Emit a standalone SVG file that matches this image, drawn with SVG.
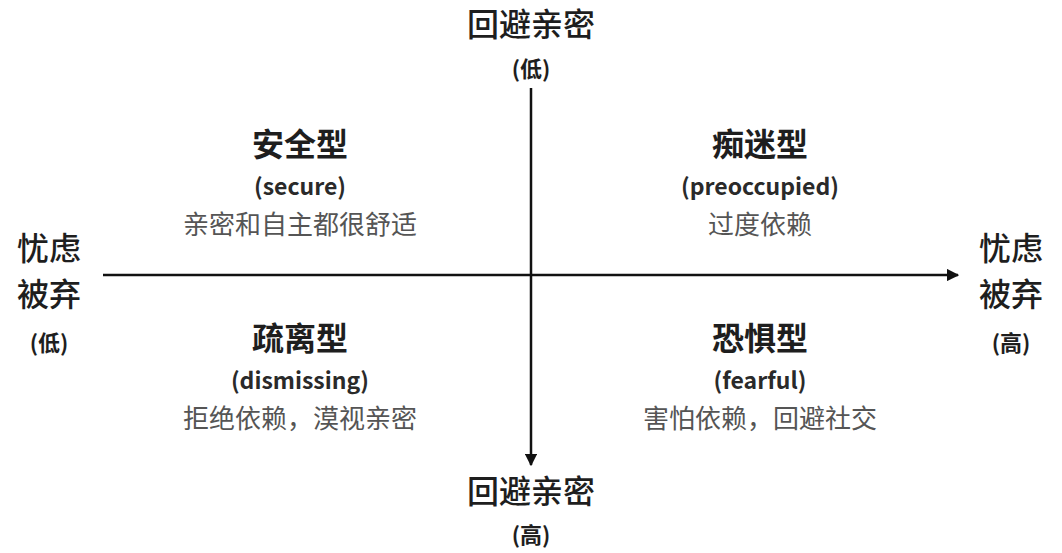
<svg xmlns="http://www.w3.org/2000/svg" width="1062" height="553" viewBox="0 0 1062 553">
<style>
text{font-family:"Noto Sans CJK SC","Noto Sans",sans-serif;text-anchor:middle}
.ax{font-size:32px;fill:#1e1e1e;font-weight:500}
.pr{font-size:22px;fill:#1e1e1e;font-weight:700}
.tt{font-size:32px;fill:#1e1e1e;font-weight:700}
.en{font-size:23px;fill:#2a2a2a;font-weight:700}
.ds{font-size:26px;fill:#555}
.ln{stroke:#111;stroke-width:2.5;fill:none}
</style>
<defs>
<marker id="ar" viewBox="0 0 10 10" refX="9" refY="5" markerWidth="5" markerHeight="5" orient="auto"><path d="M0,0 L10,5 L0,10 z" fill="#111"/></marker>
</defs>
<rect width="1062" height="553" fill="#fff"/>
<g id="connectors">
<line class="ln" x1="531" y1="88" x2="531" y2="465" marker-end="url(#ar)"/>
<line class="ln" x1="103" y1="275" x2="958" y2="275" marker-end="url(#ar)"/>
</g>
<g id="axis-top"><text class="ax" x="531" y="36">回避亲密</text><text class="pr" x="531" y="77">(低)</text></g>
<g id="axis-bottom"><text class="ax" x="531" y="503">回避亲密</text><text class="pr" x="531" y="543">(高)</text></g>
<g id="axis-left"><text class="ax" x="49" y="260">忧虑</text><text class="ax" x="49" y="306">被弃</text><text class="pr" x="49" y="351">(低)</text></g>
<g id="axis-right"><text class="ax" x="1011" y="260">忧虑</text><text class="ax" x="1011" y="306">被弃</text><text class="pr" x="1011" y="351">(高)</text></g>
<g id="secure"><text class="tt" x="300" y="156">安全型</text><text class="en" x="300" y="195">(secure)</text><text class="ds" x="300" y="234">亲密和自主都很舒适</text></g>
<g id="preoccupied"><text class="tt" x="760" y="156">痴迷型</text><text class="en" x="760" y="195">(preoccupied)</text><text class="ds" x="760" y="234">过度依赖</text></g>
<g id="dismissing"><text class="tt" x="300" y="350">疏离型</text><text class="en" x="300" y="389">(dismissing)</text><text class="ds" x="300" y="428">拒绝依赖，漠视亲密</text></g>
<g id="fearful"><text class="tt" x="760" y="350">恐惧型</text><text class="en" x="760" y="389">(fearful)</text><text class="ds" x="760" y="428">害怕依赖，回避社交</text></g>
</svg>
